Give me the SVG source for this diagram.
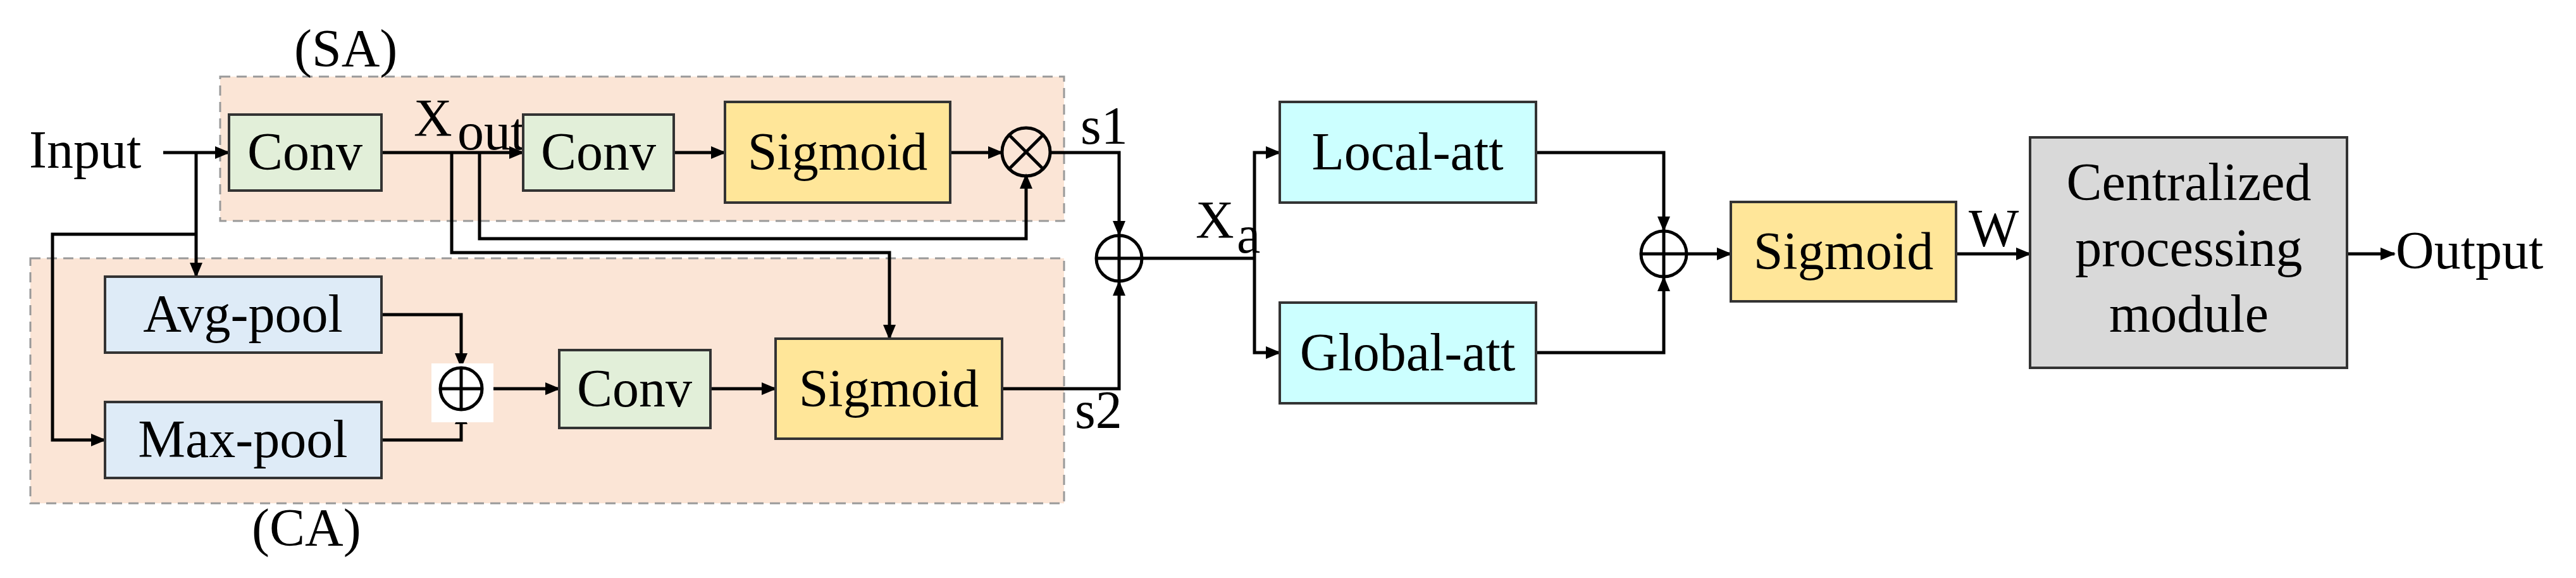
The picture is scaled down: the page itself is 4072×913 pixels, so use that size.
<svg xmlns="http://www.w3.org/2000/svg" width="4072" height="913" viewBox="0 0 4072 913">
<style>
text{font-family:"Liberation Serif","Times New Roman",serif;font-size:84px;fill:#000}
.reg{fill:#fbe5d6;stroke:#999;stroke-width:3;stroke-dasharray:16 10}
.box{stroke:#333;stroke-width:4}
.g{fill:#e2efd9}.y{fill:#ffe699}.b{fill:#deebf7}.c{fill:#ccffff}.gr{fill:#d9d9d9}
.ln{fill:none;stroke:#000;stroke-width:5}
.op{fill:none;stroke:#000;stroke-width:5}
</style>
<defs><marker id="a" markerWidth="8" markerHeight="8" refX="7" refY="4" orient="auto" markerUnits="userSpaceOnUse" viewBox="0 0 8 8"><path d="M0,0L8,4L0,8z" fill="#000"/></marker>
<marker id="ah" markerWidth="24" markerHeight="24" refX="22" refY="12" orient="auto" markerUnits="userSpaceOnUse"><path d="M0,2L24,12L0,22z" fill="#000"/></marker></defs>
<g id="regions">
<rect class="reg" x="348" y="121" width="1334" height="228"/>
<rect class="reg" x="48" y="408" width="1634" height="387"/>
<text x="465" y="105">(SA)</text>
<text x="398" y="862">(CA)</text>
</g>
<g id="connectors" class="ln" marker-end="url(#ah)">
<path d="M258,241H362"/>
<path d="M310,241V437"/>
<path d="M310,370H83V695H166"/>
<path d="M603,241H827"/>
<path d="M714,241V399H1406V535"/>
<path d="M758,241V377H1622V276"/>
<path d="M1065,241H1146"/>
<path d="M1502,241H1584"/>
<path d="M1660,241H1769V371"/>
<path d="M603,497H729V580"/>
<path d="M603,695H729V648"/>
<path d="M769,614H884"/>
<path d="M1123,614H1226"/>
<path d="M1584,614H1769V445"/>
<path d="M1806,408H1983" marker-end="none"/>
<path d="M1983,408V241H2023"/>
<path d="M1983,408V557H2023"/>
<path d="M2428,241H2630V364"/>
<path d="M2428,557H2630V438"/>
<path d="M2667,401H2736"/>
<path d="M3092,401H3209"/>
<path d="M3710,401H3785"/>
</g>
<g id="input"><text x="46" y="265">Input</text></g>
<g id="conv1"><rect class="box g" x="362" y="181" width="241" height="120"/><text x="482" y="268" text-anchor="middle">Conv</text></g>
<g id="xout"><text x="654" y="215">X</text><text x="723" y="236" font-size="40">out</text></g>
<g id="conv2"><rect class="box g" x="827" y="181" width="238" height="120"/><text x="946" y="268" text-anchor="middle">Conv</text></g>
<g id="sigmoid1"><rect class="box y" x="1146" y="161" width="356" height="159"/><text x="1324" y="268" text-anchor="middle">Sigmoid</text></g>
<g id="mul"><circle class="op" cx="1622" cy="240" r="38" fill="none"/><path class="op" d="M1595,213L1649,267M1649,213L1595,267"/></g>
<g id="s1"><text x="1708" y="227">s1</text></g>
<g id="s2"><text x="1699" y="676">s2</text></g>
<g id="avgpool"><rect class="box b" x="166" y="437" width="437" height="120"/><text x="384" y="524" text-anchor="middle">Avg-pool</text></g>
<g id="maxpool"><rect class="box b" x="166" y="635" width="437" height="120"/><text x="384" y="722" text-anchor="middle">Max-pool</text></g>
<g id="add1"><rect x="682" y="574" width="98" height="93" fill="#fff"/><circle class="op" cx="729" cy="614" r="33" stroke-width="7"/><path class="op" stroke-width="7" d="M696,614H762M729,581V647"/></g>
<g id="conv3"><rect class="box g" x="884" y="553" width="239" height="123"/><text x="1003" y="642" text-anchor="middle">Conv</text></g>
<g id="sigmoid2"><rect class="box y" x="1226" y="535" width="358" height="158"/><text x="1405" y="642" text-anchor="middle">Sigmoid</text></g>
<g id="add2"><circle class="op" cx="1769" cy="408" r="36" stroke-width="7"/><path class="op" stroke-width="7" d="M1733,408H1805M1769,372V444"/></g>
<g id="xa"><text x="1890" y="376">X</text><text x="1955" y="399" font-size="40">a</text></g>
<g id="localatt"><rect class="box c" x="2023" y="161" width="405" height="159"/><text x="2225" y="268" text-anchor="middle">Local-att</text></g>
<g id="globalatt"><rect class="box c" x="2023" y="478" width="405" height="159"/><text x="2225" y="585" text-anchor="middle">Global-att</text></g>
<g id="add3"><circle class="op" cx="2630" cy="401" r="36" stroke-width="7"/><path class="op" stroke-width="7" d="M2594,401H2666M2630,365V437"/></g>
<g id="sigmoid3"><rect class="box y" x="2736" y="319" width="356" height="157"/><text x="2914" y="425" text-anchor="middle">Sigmoid</text></g>
<g id="w"><text x="3112" y="389">W</text></g>
<g id="cpm"><rect class="box gr" x="3209" y="217" width="501" height="364"/><text x="3460" y="316" text-anchor="middle">Centralized</text><text x="3460" y="420" text-anchor="middle">processing</text><text x="3460" y="524" text-anchor="middle">module</text></g>
<g id="output"><text x="3787" y="424">Output</text></g>
</svg>
